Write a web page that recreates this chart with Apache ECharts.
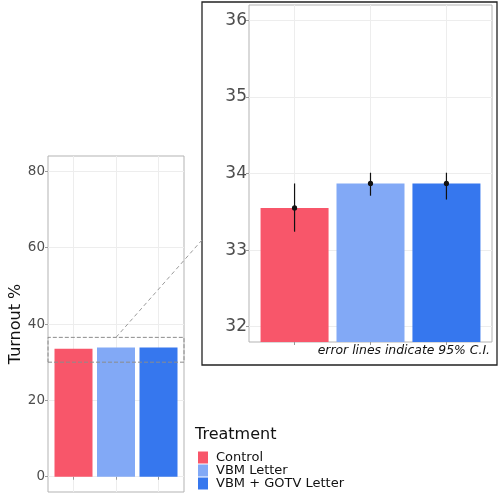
<!DOCTYPE html>
<html>
<head>
<meta charset="utf-8">
<script src="https://cdn.jsdelivr.net/npm/echarts@6/dist/echarts.min.js"></script>
<style>
html, body { margin: 0; padding: 0; background: #fff; }
#chart { width: 500px; height: 500px; }
</style>
</head>
<body>
<div id="chart"></div>
<script>
// values
const treatments = ['Control', 'VBM Letter', 'VBM + GOTV Letter'];
const turnout = [33.55, 33.87, 33.87];
const ciLow = [33.24, 33.71, 33.66];
const ciHigh = [33.87, 34.01, 34.01];
const colors = ['#f8566a', '#82a9f6', '#3677ee'];
const mainTicks = [0, 20, 40, 60, 80];
const zoomTicks = [32, 33, 34, 35, 36];
const zoomBox = [30, 36.5];
const catPos = treatments.map((t, i) => i + 1);

const font = 'DejaVu Sans';
const gridLine = { show: true, lineStyle: { color: '#ededed', width: 1 } };

function xAxisFor(gridIndex) {
    return {
        type: 'value', gridIndex: gridIndex, min: 0.4, max: 3.6,
        axisLine: { show: false },
        axisTick: { show: true, customValues: catPos, length: 3, lineStyle: { color: '#999' } },
        axisLabel: { show: false, customValues: catPos },
        splitLine: gridLine
    };
}

function yAxisFor(gridIndex, min, max, ticks, size, margin) {
    return {
        type: 'value', gridIndex: gridIndex, min: min, max: max,
        axisLine: { show: false },
        axisTick: { show: true, customValues: ticks, length: 3, lineStyle: { color: '#999' } },
        axisLabel: { customValues: ticks, color: '#4d4d4d', fontSize: size, fontFamily: font, margin: margin },
        splitLine: gridLine
    };
}

function barSeries(gridIndex, width) {
    return treatments.map((name, i) => ({
        name: name,
        type: 'bar',
        xAxisIndex: gridIndex, yAxisIndex: gridIndex,
        barWidth: width, barGap: '-100%',
        itemStyle: { color: colors[i] },
        data: [[catPos[i], turnout[i]]]
    }));
}

const mainBars = barSeries(0, 38);
mainBars[2].markArea = {
    silent: true, z: 5,
    itemStyle: { color: 'rgba(0,0,0,0)', borderColor: '#8c8c8c', borderWidth: 1, borderType: 'dashed' },
    data: [[{ yAxis: zoomBox[0] }, { yAxis: zoomBox[1] }]]
};

const errorBars = {
    type: 'custom', xAxisIndex: 1, yAxisIndex: 1, z: 10,
    data: treatments.map((t, i) => [catPos[i], ciLow[i], ciHigh[i], turnout[i]]),
    renderItem: function (params, api) {
        const lo = api.coord([api.value(0), api.value(1)]);
        const hi = api.coord([api.value(0), api.value(2)]);
        const mid = api.coord([api.value(0), api.value(3)]);
        return {
            type: 'group',
            children: [
                { type: 'line', shape: { x1: lo[0], y1: lo[1], x2: hi[0], y2: hi[1] }, style: { stroke: '#111', lineWidth: 1.2 } },
                { type: 'circle', shape: { cx: mid[0], cy: mid[1], r: 2.6 }, style: { fill: '#111' } }
            ]
        };
    }
};

const chart = echarts.init(document.getElementById('chart'));
chart.setOption({
    animation: false,
    backgroundColor: '#fff',
    textStyle: { fontFamily: font },
    grid: [
        { left: 48, top: 156, width: 136, height: 336, show: true, borderColor: '#b3b3b3', borderWidth: 1, backgroundColor: '#fff' },
        { left: 249, top: 5, width: 243, height: 337, show: true, borderColor: '#b3b3b3', borderWidth: 1, backgroundColor: '#fff' }
    ],
    xAxis: [xAxisFor(0), xAxisFor(1)],
    yAxis: [
        Object.assign(yAxisFor(0, -4, 84, mainTicks, 13.5, 3), {
            name: 'Turnout %', nameLocation: 'middle', nameGap: 22,
            nameTextStyle: { fontSize: 16, color: '#111', fontFamily: font }
        }),
        yAxisFor(1, 31.8, 36.2, zoomTicks, 17, 2)
    ],
    legend: {
        data: treatments,
        orient: 'vertical', left: 193, top: 446,
        itemWidth: 10, itemHeight: 12, itemGap: 0,
        icon: 'rect',
        selectedMode: false,
        textStyle: { fontSize: 13, color: '#111', fontFamily: font, lineHeight: 12, padding: [0, 0, 0, 3] }
    },
    series: mainBars.concat(barSeries(1, 68), [errorBars])
});

// decorations: inset frame, connector, caption, legend title
const boxTop = chart.convertToPixel({ xAxisIndex: 0, yAxisIndex: 0 }, [catPos[1], zoomBox[1]]);
chart.setOption({
    graphic: [
        { type: 'rect', shape: { x: 202, y: 2, width: 295, height: 363 }, style: { fill: 'none', stroke: '#222', lineWidth: 1.3 }, z: 20 },
        { type: 'line', shape: { x1: boxTop[0], y1: boxTop[1], x2: 202, y2: 240 }, style: { stroke: '#9a9a9a', lineWidth: 1, lineDash: [4, 3] }, z: 20 },
        { type: 'text', right: 10, top: 345, style: { text: 'error lines indicate 95% C.I.', fontSize: 12.4, fontStyle: 'italic', fontFamily: font, fill: '#111' }, z: 20 },
        { type: 'text', left: 195, top: 427, style: { text: 'Treatment', fontSize: 16, fontFamily: font, fill: '#111' }, z: 20 }
    ]
});
</script>
</body>
</html>
